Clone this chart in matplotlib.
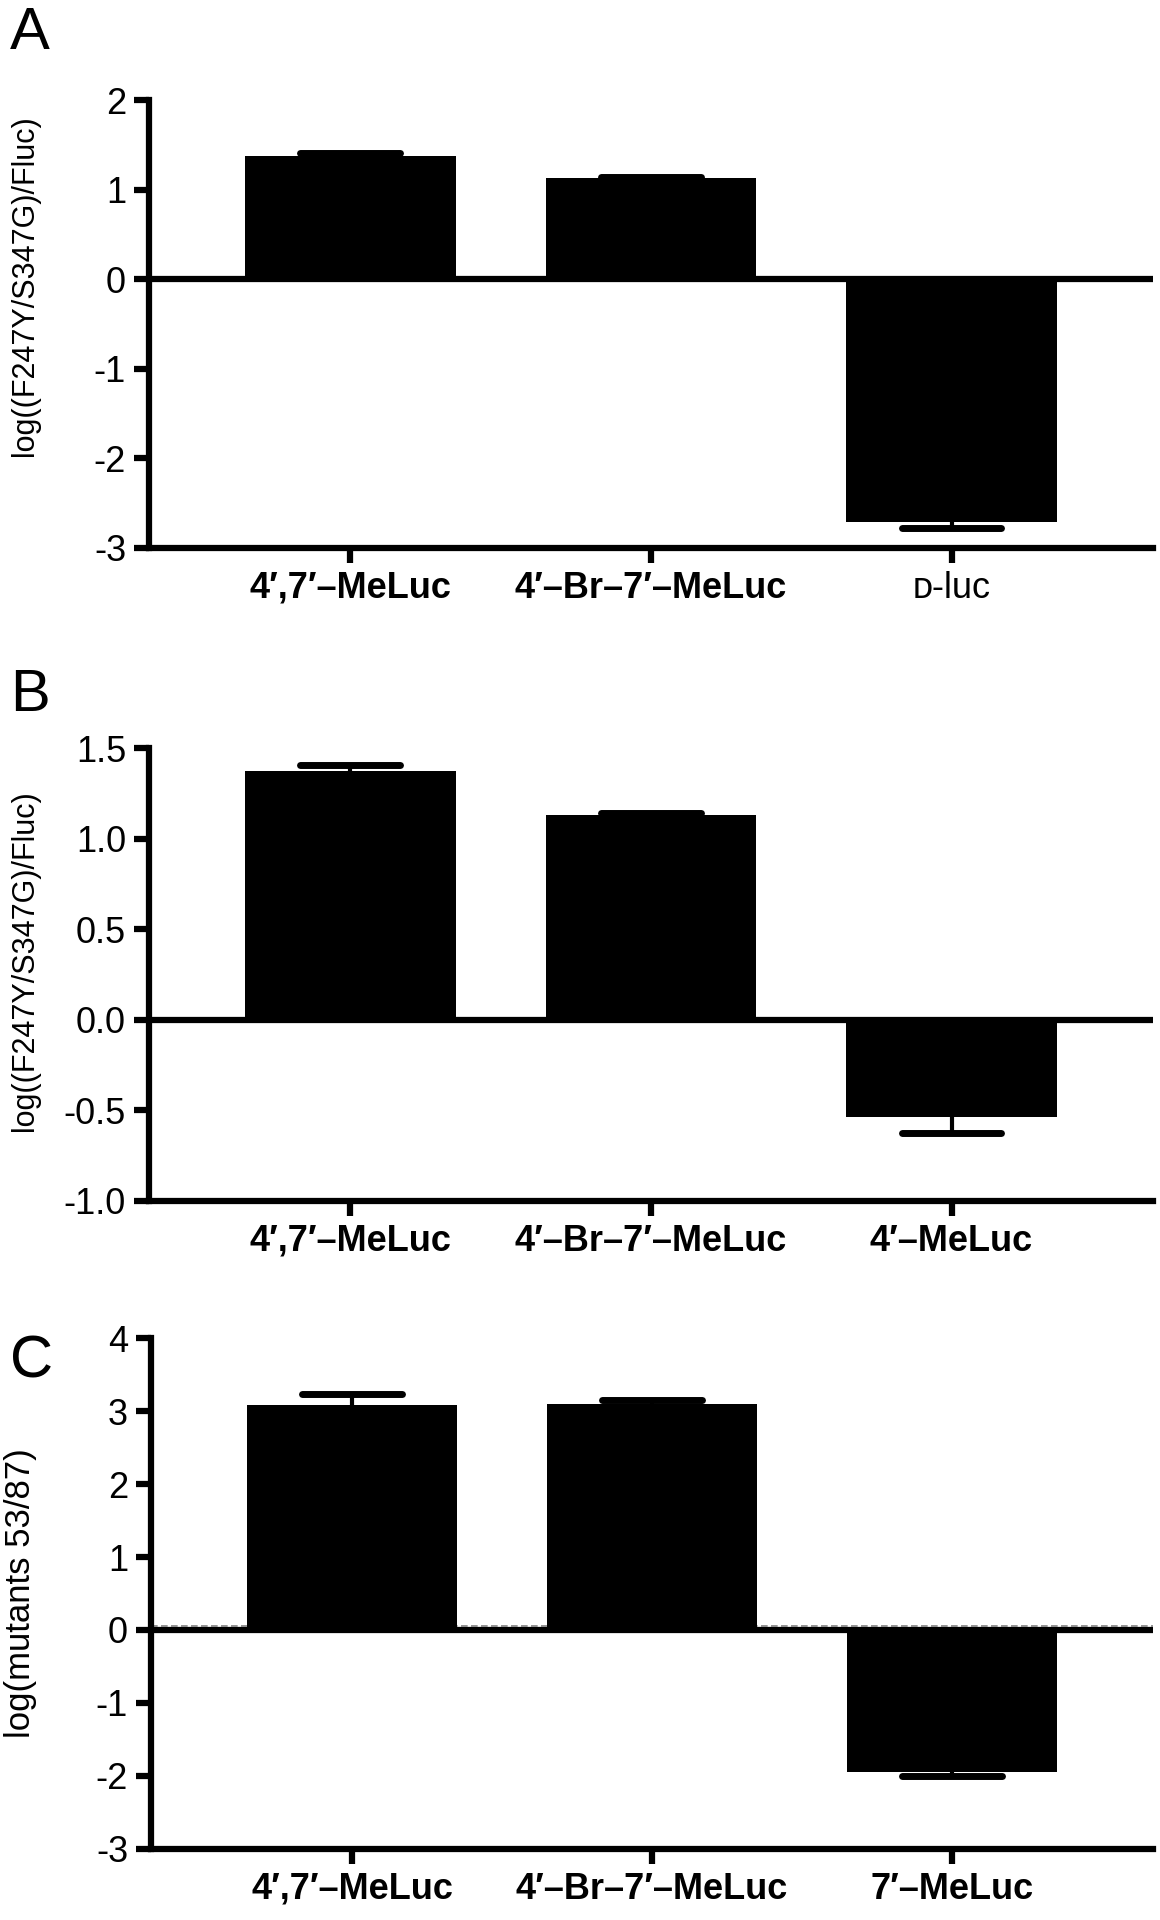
import numpy as np
import matplotlib.pyplot as plt
from matplotlib import transforms

plt.rcParams['font.family'] = ['Liberation Sans', 'DejaVu Sans']

# -------- DATA --------
labels_a = ["4′,7′–MeLuc", "4′–Br–7′–MeLuc", "ᴅ-luc"]
values_a = [1.38, 1.13, -2.71]
errors_a = [0.025, 0.01, 0.07]
yticks_a = [-3, -2, -1, 0, 1, 2]
yticklabels_a = ["-3", "-2", "-1", "0", "1", "2"]

labels_b = ["4′,7′–MeLuc", "4′–Br–7′–MeLuc", "4′–MeLuc"]
values_b = [1.375, 1.13, -0.535]
errors_b = [0.03, 0.01, 0.09]
yticks_b = [-1.0, -0.5, 0.0, 0.5, 1.0, 1.5]
yticklabels_b = ["-1.0", "-0.5", "0.0", "0.5", "1.0", "1.5"]

labels_c = ["4′,7′–MeLuc", "4′–Br–7′–MeLuc", "7′–MeLuc"]
values_c = [3.08, 3.10, -1.945]
errors_c = [0.15, 0.055, 0.055]
yticks_c = [-3, -2, -1, 0, 1, 2, 3, 4]
yticklabels_c = ["-3", "-2", "-1", "0", "1", "2", "3", "4"]

ylabel_ab = "log((F247Y/S347G)/Fluc)"
ylabel_c = "log(mutants 53/87)"

LW = 4.5


def draw_panel(ax, labels, values, errors, yticks, yticklabels, ylabel,
               label_y, label_size, label_x):
    x = np.arange(len(labels))
    values = np.array(values)
    errors = np.array(errors)
    tips = values + np.sign(values) * errors

    ax.bar(x, values, width=0.70, color='black', zorder=2)
    ax.vlines(x, values, tips, color='black', lw=3, zorder=1)
    ax.hlines(tips, x - 0.166, x + 0.166, color='black', lw=5,
              capstyle='round', zorder=3)
    ax.axhline(0, color='black', lw=LW, zorder=1.5)

    ax.set_xlim(-0.67, 2.67)
    ax.set_ylim(yticks[0], yticks[-1])
    ax.set_yticks(yticks)
    ax.set_yticklabels(yticklabels, fontsize=26)
    ax.set_xticks(x)
    ax.set_xticklabels(labels, fontsize=26, fontweight='bold')
    for t in ax.get_xticklabels():
        if t.get_text().startswith('ᴅ'):
            t.set_fontweight('normal')

    for s in ['top', 'right']:
        ax.spines[s].set_visible(False)
    for s in ['left', 'bottom']:
        ax.spines[s].set_linewidth(LW)
    ax.tick_params(length=10.5, width=LW, pad=6)

    ax.set_ylabel(ylabel, fontsize=label_size)
    ax.yaxis.set_label_coords(label_x, label_y)


fig = plt.figure(figsize=(11.6, 19.2), dpi=100)

ax_a = fig.add_axes([0.1284, 0.7146, 0.8655, 0.2333])
ax_b = fig.add_axes([0.1284, 0.3745, 0.8655, 0.2359])
ax_c = fig.add_axes([0.1302, 0.0370, 0.8638, 0.2661])

draw_panel(ax_a, labels_a, values_a, errors_a, yticks_a, yticklabels_a,
           ylabel_ab, 0.586, 22, -0.109)
draw_panel(ax_b, labels_b, values_b, errors_b, yticks_b, yticklabels_b,
           ylabel_ab, 0.53, 22, -0.109)
draw_panel(ax_c, labels_c, values_c, errors_c, yticks_c, yticklabels_c,
           ylabel_c, 0.5, 25, -0.114)

# dashed baseline in panel C, sitting on top of the zero line
offset = transforms.offset_copy(ax_c.transData, fig=fig, y=3.5, units='dots')
ax_c.plot(ax_c.get_xlim(), [0, 0], ls=(0, (4, 2)), color='0.5', lw=1.2,
          transform=offset, zorder=1.8)

fig.text(10 / 1160, 1 - 49 / 1920, "A", fontsize=43, va='baseline')
fig.text(10 / 1160, 1 - 711 / 1920, "B", fontsize=43, va='baseline')
fig.text(10 / 1160, 1 - 1378 / 1920, "C", fontsize=43, va='baseline')

fig.savefig("out.png", dpi=100)
